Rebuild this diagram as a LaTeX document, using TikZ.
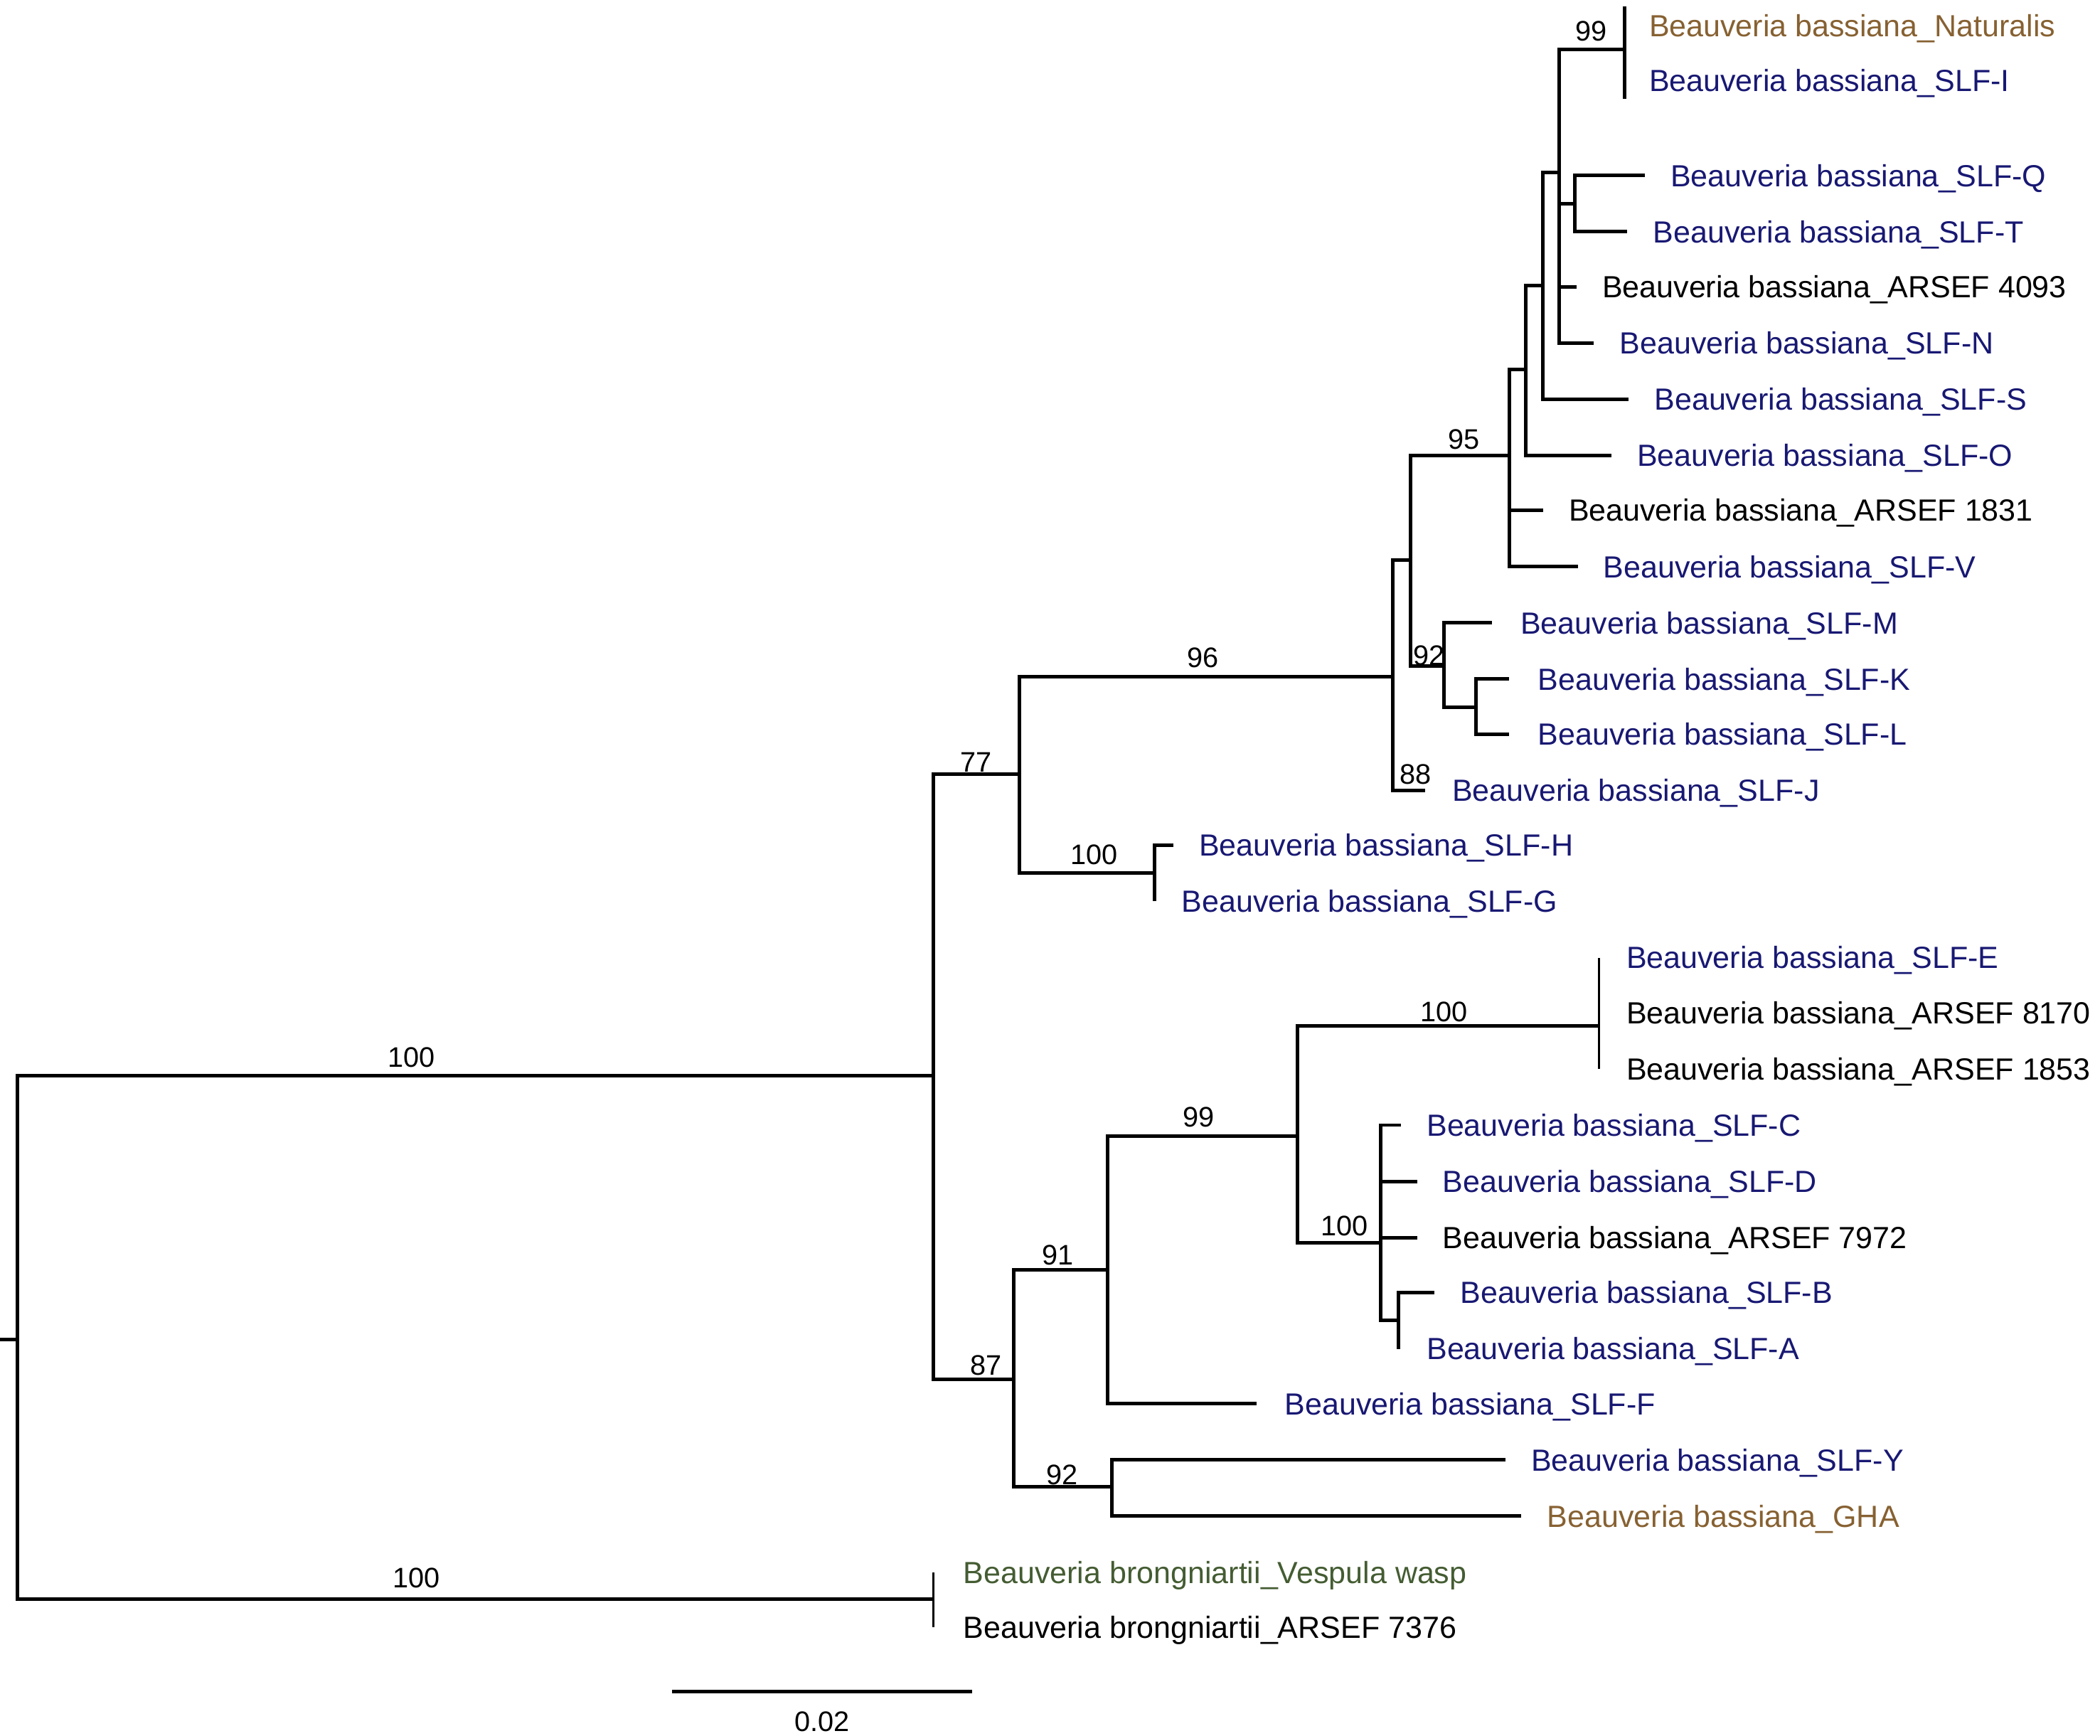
\documentclass[tikz,border=0pt]{standalone}
\usepackage{fontspec}
\setmainfont{Liberation Sans}
\usetikzlibrary{positioning}
\definecolor{slfblue}{RGB}{24,24,115}
\definecolor{ghabrown}{RGB}{135,97,50}
\definecolor{waspgreen}{RGB}{68,92,50}

\begin{document}
\begin{tikzpicture}[x=0.02cm, y=-0.02cm,
    every node/.style = {inner sep=0pt},
    leaf/.style = {font=\fontsize{13}{15}\selectfont, text height=9.3pt, text depth=0pt},
    boot/.style = {font=\fontsize{12}{14}\selectfont, text height=8.6pt, text depth=0pt},
    branch/.style = {line width=1.5pt},
    flat/.style = {line width=1pt}]
    \useasboundingbox (0,0) rectangle (1568,1296);

    \coordinate (stub) at (0, 1000);
    \coordinate (root) at (13, 1000);
    \coordinate (nA) at (697, 803);
    \coordinate (nBr) at (697, 1194);
    \coordinate (n77) at (761, 578);
    \coordinate (n87) at (757, 1030);
    \coordinate (n96) at (1040, 505);
    \coordinate (nHG) at (862, 652);
    \coordinate (nD) at (1053, 418);
    \coordinate (n95) at (1127, 340);
    \coordinate (nH) at (1139, 276);
    \coordinate (nI) at (1152, 213);
    \coordinate (nJ) at (1164, 129);
    \coordinate (n99t) at (1213, 37);
    \coordinate (nQT) at (1176, 152);
    \coordinate (n92) at (1078, 497);
    \coordinate (nKL) at (1102, 528);
    \coordinate (n91) at (827, 948);
    \coordinate (n99m) at (969, 848);
    \coordinate (nE) at (1194, 766);
    \coordinate (n100c) at (1031, 928);
    \coordinate (nBA) at (1044, 986);
    \coordinate (n92b) at (830, 1110);

    \coordinate (tNat) at (1213, 19);
    \coordinate (tI) at (1213, 60);
    \coordinate (tQ) at (1228, 131);
    \coordinate (tT) at (1215, 173);
    \coordinate (t4093) at (1177, 214);
    \coordinate (tN) at (1190, 256);
    \coordinate (tS) at (1216, 298);
    \coordinate (tO) at (1203, 340);
    \coordinate (t1831) at (1152, 381);
    \coordinate (tV) at (1178, 423);
    \coordinate (tM) at (1114, 465);
    \coordinate (tK) at (1127, 507);
    \coordinate (tL) at (1127, 548);
    \coordinate (tJ) at (1064, 590);
    \coordinate (tH) at (876, 631);
    \coordinate (tG) at (862, 673);
    \coordinate (tE) at (1194, 715);
    \coordinate (t8170) at (1194, 756);
    \coordinate (t1853) at (1194, 798);
    \coordinate (tC) at (1046, 840);
    \coordinate (tD) at (1058, 882);
    \coordinate (t7972) at (1058, 924);
    \coordinate (tB) at (1071, 965);
    \coordinate (tA) at (1044, 1007);
    \coordinate (tF) at (938, 1048);
    \coordinate (tY) at (1124, 1090);
    \coordinate (tGHA) at (1136, 1132);
    \coordinate (tWasp) at (697, 1174);
    \coordinate (t7376) at (697, 1215);

    \draw[branch] (stub) -- (root);
    \draw[branch] (root) |- (nA);
    \draw[branch] (root) |- (nBr);
    \draw[flat] (nBr) |- (tWasp);
    \draw[flat] (nBr) |- (t7376);
    \draw[branch] (nA) |- (n77);
    \draw[branch] (nA) |- (n87);
    \draw[branch] (n77) |- (n96);
    \draw[branch] (n77) |- (nHG);
    \draw[branch] (nHG) |- (tH);
    \draw[branch] (nHG) |- (tG);
    \draw[branch] (n96) |- (nD);
    \draw[branch] (n96) |- (tJ);
    \draw[branch] (nD) |- (n95);
    \draw[branch] (nD) |- (n92);
    \draw[branch] (n95) |- (nH);
    \draw[branch] (n95) |- (t1831);
    \draw[branch] (n95) |- (tV);
    \draw[branch] (nH) |- (nI);
    \draw[branch] (nH) |- (tO);
    \draw[branch] (nI) |- (nJ);
    \draw[branch] (nI) |- (tS);
    \draw[branch] (nJ) |- (n99t);
    \draw[branch] (nJ) |- (nQT);
    \draw[branch] (nJ) |- (t4093);
    \draw[branch] (nJ) |- (tN);
    \draw[branch] ([yshift=0.28cm]tNat) -- ([yshift=-0.28cm]tI);
    \draw[branch] (nQT) |- (tQ);
    \draw[branch] (nQT) |- (tT);
    \draw[branch] (n92) |- (tM);
    \draw[branch] (n92) |- (nKL);
    \draw[branch] (nKL) |- (tK);
    \draw[branch] (nKL) |- (tL);
    \draw[branch] (n87) |- (n91);
    \draw[branch] (n87) |- (n92b);
    \draw[branch] (n91) |- (n99m);
    \draw[branch] (n91) |- (tF);
    \draw[branch] (n99m) |- (nE);
    \draw[branch] (n99m) |- (n100c);
    \draw[flat] (nE) |- (tE);
    \draw[flat] (nE) |- (t1853);
    \draw[branch] (n100c) |- (tC);
    \draw[branch] (n100c) |- (tD);
    \draw[branch] (n100c) |- (t7972);
    \draw[branch] (n100c) |- (nBA);
    \draw[branch] (nBA) |- (tB);
    \draw[branch] (nBA) |- (tA);
    \draw[branch] (n92b) |- (tY);
    \draw[branch] (n92b) |- (tGHA);

    \node (lNat) [leaf, right=0.36cm of tNat, text=ghabrown] {Beauveria bassiana\_Naturalis};
    \node (lI) [leaf, right=0.36cm of tI, text=slfblue] {Beauveria bassiana\_SLF-I};
    \node (lQ) [leaf, right=0.38cm of tQ, text=slfblue] {Beauveria bassiana\_SLF-Q};
    \node (lT) [leaf, right=0.38cm of tT, text=slfblue] {Beauveria bassiana\_SLF-T};
    \node (l4093) [leaf, right=0.38cm of t4093] {Beauveria bassiana\_ARSEF 4093};
    \node (lN) [leaf, right=0.38cm of tN, text=slfblue] {Beauveria bassiana\_SLF-N};
    \node (lS) [leaf, right=0.38cm of tS, text=slfblue] {Beauveria bassiana\_SLF-S};
    \node (lO) [leaf, right=0.38cm of tO, text=slfblue] {Beauveria bassiana\_SLF-O};
    \node (l1831) [leaf, right=0.38cm of t1831] {Beauveria bassiana\_ARSEF 1831};
    \node (lV) [leaf, right=0.38cm of tV, text=slfblue] {Beauveria bassiana\_SLF-V};
    \node (lM) [leaf, right=0.42cm of tM, text=slfblue] {Beauveria bassiana\_SLF-M};
    \node (lK) [leaf, right=0.42cm of tK, text=slfblue] {Beauveria bassiana\_SLF-K};
    \node (lL) [leaf, right=0.42cm of tL, text=slfblue] {Beauveria bassiana\_SLF-L};
    \node (lJ) [leaf, right=0.40cm of tJ, text=slfblue] {Beauveria bassiana\_SLF-J};
    \node (lH) [leaf, right=0.38cm of tH, text=slfblue] {Beauveria bassiana\_SLF-H};
    \node (lG) [leaf, right=0.40cm of tG, text=slfblue] {Beauveria bassiana\_SLF-G};
    \node (lE) [leaf, right=0.40cm of tE, text=slfblue] {Beauveria bassiana\_SLF-E};
    \node (l8170) [leaf, right=0.40cm of t8170] {Beauveria bassiana\_ARSEF 8170};
    \node (l1853) [leaf, right=0.40cm of t1853] {Beauveria bassiana\_ARSEF 1853};
    \node (lC) [leaf, right=0.38cm of tC, text=slfblue] {Beauveria bassiana\_SLF-C};
    \node (lD) [leaf, right=0.38cm of tD, text=slfblue] {Beauveria bassiana\_SLF-D};
    \node (l7972) [leaf, right=0.38cm of t7972] {Beauveria bassiana\_ARSEF 7972};
    \node (lB) [leaf, right=0.38cm of tB, text=slfblue] {Beauveria bassiana\_SLF-B};
    \node (lA) [leaf, right=0.42cm of tA, text=slfblue] {Beauveria bassiana\_SLF-A};
    \node (lF) [leaf, right=0.42cm of tF, text=slfblue] {Beauveria bassiana\_SLF-F};
    \node (lY) [leaf, right=0.38cm of tY, text=slfblue] {Beauveria bassiana\_SLF-Y};
    \node (lGHA) [leaf, right=0.38cm of tGHA, text=ghabrown] {Beauveria bassiana\_GHA};
    \node (lWasp) [leaf, right=0.44cm of tWasp, text=waspgreen] {Beauveria brongniartii\_Vespula wasp};
    \node (l7376) [leaf, right=0.44cm of t7376] {Beauveria brongniartii\_ARSEF 7376};

    \node (bRootA) at (307, 789) [boot] {100};
    \node (bRootB) at (311, 1178) [boot] {100};
    \node (b77) at (729, 569) [boot] {77};
    \node (b96) at (898, 491) [boot] {96};
    \node (bHG) at (817, 638) [boot] {100};
    \node (b95) at (1093, 328) [boot] {95};
    \node (b99t) at (1188, 23) [boot] {99};
    \node (b92) at (1067, 489) [boot] {92};
    \node (b88) at (1057, 578) [boot] {88};
    \node (b87) at (736, 1019) [boot] {87};
    \node (b91) at (790, 937) [boot] {91};
    \node (b99m) at (895, 834) [boot] {99};
    \node (bE) at (1078, 755) [boot] {100};
    \node (b100c) at (1004, 915) [boot] {100};
    \node (b92b) at (793, 1101) [boot] {92};

    \coordinate (sbL) at (502, 1263);
    \coordinate (sbR) at (726, 1263);
    \draw[branch] (sbL) -- (sbR);
    \node (sbText) at (614, 1285) [boot] {0.02};
\end{tikzpicture}
\end{document}
